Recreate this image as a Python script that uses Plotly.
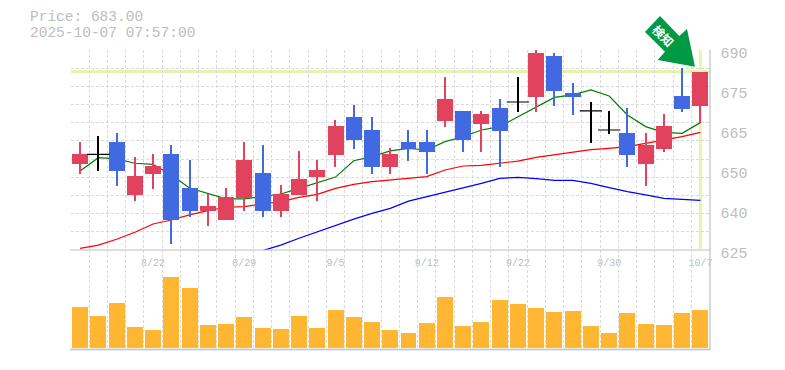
import numpy as np
import plotly.graph_objects as go

W, H = 785, 370

dates = ["8/22", "8/29", "9/5", "9/12", "9/22", "9/30", "10/7"]
date_idx = [4, 9, 14, 19, 24, 29, 34]

opens = [652.95, 656.1, 660.1, 642.9, 649.7, 656.2, 645.15, 637.7, 634.75, 641.9, 650.0, 637.7, 642.9, 648.7, 655.9,
         668.2, 664.0, 652.0, 660.1, 660.1, 666.9, 670.2, 666.0, 671.15, 673.1, 674.7, 688.0, 676.0, 670.2, 664.0,
         663.0, 652.95, 657.8, 675.0, 671.8]
closes = [656.2, 656.1, 650.7, 649.05, 652.3, 634.75, 637.7, 639.3, 642.2, 654.25, 637.7, 643.2, 648.1, 651.0, 665.3,
          660.75, 652.0, 656.2, 657.8, 656.85, 674.0, 660.75, 669.2, 663.7, 673.1, 689.0, 676.7, 674.7, 670.2, 664.0,
          655.9, 659.1, 665.3, 670.8, 683.0]
highs = [660.1, 662.0, 663.0, 655.2, 656.2, 659.1, 654.25, 643.1, 645.15, 660.1, 659.1, 646.1, 657.2, 654.25, 667.25,
         672.1, 668.2, 658.15, 664.0, 664.0, 681.2, 670.2, 670.2, 674.0, 681.2, 690.0, 689.0, 679.3, 673.1, 670.2,
         671.15, 663.0, 669.2, 684.15, 683.0]
lows = [649.7, 650.7, 645.8, 640.9, 644.8, 626.95, 635.7, 632.8, 634.75, 637.7, 635.7, 635.7, 642.9, 640.9, 652.0,
        657.8, 649.7, 649.7, 653.9, 649.7, 665.0, 656.85, 656.85, 652.0, 669.85, 669.85, 671.8, 668.9, 659.8, 662.7,
        652.0, 645.8, 656.85, 669.85, 666.3]

ma_short = [650.7, 655.0, 654.6, 653.2, 652.85, 649.4, 645.15, 643.4, 641.6, 641.6, 642.35, 643.2, 645.05, 647.0, 648.7,
            654.0, 655.35, 657.2, 658.0, 657.5, 660.2, 661.8, 664.0, 665.1, 668.35, 671.6, 674.6, 675.4, 677.0, 675.05,
            668.9, 665.1, 663.25, 662.9, 666.4]
ma_mid = [625.55, 626.6, 628.5, 630.75, 633.45, 634.75, 636.4, 637.8, 638.9, 639.1, 639.95, 640.7, 642.1, 643.1, 645.05,
          646.35, 647.2, 647.75, 648.3, 648.85, 651.0, 652.3, 652.5, 653.15, 653.9, 655.1, 655.9, 656.75, 657.6, 658.05,
          658.6, 659.65, 660.75, 661.85, 663.25]
ma_long = [None] * 10 + [624.8, 626.6, 628.8, 630.95, 633.1, 635.05, 636.9, 638.55, 640.9, 642.35, 643.75, 645.05, 646.65,
                         648.3, 648.6, 648.2, 647.65, 647.65, 646.65, 645.25, 643.95, 642.9, 641.8, 641.45, 641.15]

volume = [41.3, 32.3, 45.3, 21.3, 18.3, 71.3, 60.3, 23.3, 24.3, 31.3, 20.3, 19.3, 32.3, 20.3, 38.3, 31.3, 26.3, 18.3,
          15.3, 25.3, 51.3, 22.3, 26.3, 48.3, 44.3, 40.3, 36.3, 37.3, 22.3, 15.3, 35.3, 24.3, 23.3, 35.3, 38.3]

price_tick_vals = [690, 677, 664, 651, 638, 625]
price_tick_text = ["690", "675", "665", "650", "640", "625"]
price_grid = [690, 684.09, 678.18, 672.27, 666.36, 660.45, 654.55, 648.64, 642.73, 636.82, 630.91, 625]
last_price = 683.0

UP, DOWN, DOJI = "#E1435F", "#4169E1", "#000000"
GRID, AXIS, TEXT = "#DADADA", "#C0C0C0", "#BDBDBD"
LIME = "#E4F6AE"
GREEN = "#009944"

idx = np.arange(len(opens))
o, c, h, l = map(np.array, (opens, closes, highs, lows))
colors = [UP if b > a else DOWN if b < a else DOJI for a, b in zip(o, c)]
x_grid = list(idx[:-1] - 0.5) + [33.5]
doji = o == c

def px(v):
    return v / W
def py(v):
    return 1 - v / H

fig = go.Figure()
for vals, col in ((ma_long, "#0000FF"), (ma_mid, "#FF0000"), (ma_short, "#007F00")):
    fig.add_trace(go.Scatter(x=idx, y=vals, mode="lines", line=dict(color=col, width=1.2), xaxis="x", yaxis="y",
                             showlegend=False, hoverinfo="skip"))
fig.add_trace(go.Bar(x=idx, y=h - l, base=l, width=0.058, marker=dict(color=colors, line_width=0),
                     xaxis="x", yaxis="y2", showlegend=False))
fig.add_trace(go.Bar(x=idx, y=np.abs(c - o), base=np.minimum(o, c), width=0.875, marker=dict(color=colors, line_width=0),
                     xaxis="x", yaxis="y2", showlegend=False))
fig.add_trace(go.Scatter(x=idx[doji], y=c[doji], mode="markers",
                         marker=dict(symbol="line-ew", size=16, line=dict(color=DOJI, width=1.2)),
                         xaxis="x", yaxis="y2", showlegend=False))
fig.add_trace(go.Bar(x=idx, y=volume, width=0.875, marker=dict(color="#FFB733", line_width=0),
                     xaxis="x", yaxis="y3", showlegend=False))

shapes = [
    dict(type="line", xref="paper", yref="y", x0=px(71), x1=px(710), y0=last_price, y1=last_price,
         line=dict(color=LIME, width=3), layer="below"),
    dict(type="line", xref="x", yref="paper", x0=34, x1=34, y0=py(249), y1=py(50),
         line=dict(color=LIME, width=3), layer="below"),
    dict(type="line", xref="paper", yref="paper", x0=px(70), x1=px(710), y0=py(250), y1=py(250),
         line=dict(color=AXIS, width=1)),
    dict(type="line", xref="paper", yref="paper", x0=px(70), x1=px(710), y0=py(349.5), y1=py(349.5),
         line=dict(color=AXIS, width=1.5)),
    dict(type="line", xref="paper", yref="paper", x0=px(710), x1=px(710), y0=py(350), y1=py(50),
         line=dict(color=AXIS, width=1.2)),
]
arrow = [(660, 16), (679.3, 36), (687, 29), (695, 66.7), (657.7, 60), (665, 51.7), (645, 32)]
path = "M " + " L ".join(f"{px(a):.5f},{py(b):.5f}" for a, b in arrow) + " Z"
shapes.append(dict(type="path", xref="paper", yref="paper", path=path, fillcolor=GREEN, line_width=0, layer="above"))

annotations = [
    dict(x=px(29), y=py(17), xref="paper", yref="paper", xanchor="left", yanchor="middle", showarrow=False,
         text="Price: 683.00", font=dict(family="Liberation Mono", size=14.5, color=TEXT), borderpad=0),
    dict(x=px(29), y=py(33.5), xref="paper", yref="paper", xanchor="left", yanchor="middle", showarrow=False,
         text="2025-10-07 07:57:00", font=dict(family="Liberation Mono", size=14.5, color=TEXT), borderpad=0),
    dict(x=px(664), y=py(35), xref="paper", yref="paper", xanchor="center", yanchor="middle", showarrow=False,
         text="<b>検知</b>", textangle=45, font=dict(family="Noto Sans CJK JP", size=12, color="#FFFFFF")),
]

domain_x = [px(71), px(709.5)]
fig.update_layout(
    width=W, height=H, margin=dict(l=0, r=0, t=0, b=0, autoexpand=False), autosize=False,
    paper_bgcolor="white", plot_bgcolor="white", barmode="overlay", bargap=0,
    shapes=shapes, annotations=annotations, hovermode=False,
    xaxis=dict(domain=domain_x, range=[-0.5, 34.5], anchor="y", tickmode="array", tickvals=date_idx, ticktext=dates,
               showgrid=False, zeroline=False, showline=False, ticks="outside", ticklen=3, tickcolor="rgba(0,0,0,0)",
               tickfont=dict(family="Liberation Mono", size=10, color=TEXT),
               minor=dict(tickmode="array", tickvals=x_grid, showgrid=True, gridcolor=GRID, griddash="3px,2px", gridwidth=1, ticks="")),
    yaxis=dict(domain=[py(250), py(50)], range=[625, 690], anchor="x", side="right", tickmode="array",
               tickvals=price_tick_vals, ticktext=price_tick_text, showgrid=False, zeroline=False, showline=False,
               ticks="", ticklabelstandoff=10, ticklabelshift=3,
               tickfont=dict(family="Liberation Mono", size=15, color=TEXT),
               minor=dict(tickmode="array", tickvals=price_grid, showgrid=True, gridcolor=GRID, griddash="3px,2px", gridwidth=1, ticks="")),
    yaxis2=dict(domain=[py(250), py(50)], range=[625, 690], overlaying="y", anchor="x", side="right",
                showticklabels=False, showgrid=False, zeroline=False, showline=False, ticks=""),
    yaxis3=dict(domain=[py(350), py(250)], range=[-2, 98], anchor="x", showticklabels=False, showgrid=False,
                zeroline=False, showline=False, ticks=""),
)
fig.write_html("out.html", config={"displayModeBar": False}, post_script="document.body.style.margin='0';")
